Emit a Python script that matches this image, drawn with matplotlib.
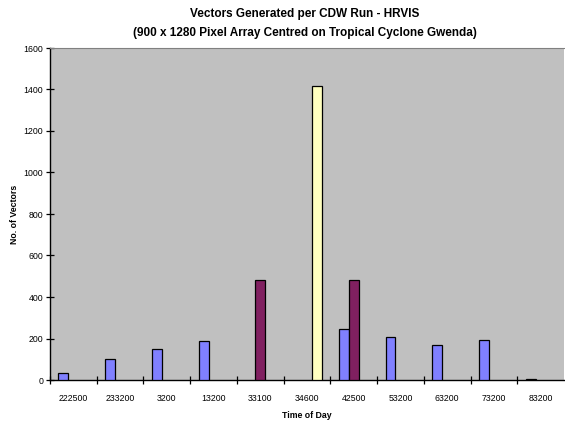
import matplotlib
matplotlib.use("Agg")
import matplotlib.pyplot as plt
import numpy as np

plt.rcParams['font.family'] = ['Liberation Sans', 'DejaVu Sans']

categories = ["222500", "233200", "3200", "13200", "33100", "34600",
              "42500", "53200", "63200", "73200", "83200"]
series_blue = [32, 100, 150, 187, 0, 0, 248, 206, 170, 192, 3]
series_maroon = [0, 0, 0, 0, 480, 0, 480, 0, 0, 0, 0]
series_yellow = [0, 0, 0, 0, 0, 1418, 0, 0, 0, 0, 0]
y_ticks = [0, 200, 400, 600, 800, 1000, 1200, 1400, 1600]

fig = plt.figure(figsize=(5.65, 4.23), dpi=100)
fig.patch.set_facecolor('white')
ax = fig.add_axes([50/565, 43/423, 514/565, 332/423])
ax.set_facecolor('#C0C0C0')

x = np.arange(len(categories))
w = 10/47
for vals, off, col in [(series_blue, -w, '#8080FF'),
                       (series_maroon, 0, '#802060'),
                       (series_yellow, w, '#FFFFC0')]:
    xs = [xi + off for xi, v in zip(x, vals) if v > 0]
    vs = [v for v in vals if v > 0]
    ax.bar(xs, vs, width=w, color=col, edgecolor='black', linewidth=0.9, zorder=3)

ax.set_xlim(-0.5, len(categories) - 0.5)
ax.set_ylim(0, 1600)
ax.set_yticks(y_ticks)
ax.set_yticklabels([str(t) for t in y_ticks], fontsize=6.3)
ax.set_xticks(x)
ax.set_xticklabels(categories, fontsize=6.3)
ax.set_xticks(np.arange(len(categories)) - 0.5, minor=True)
ax.tick_params(axis='x', which='major', length=0, pad=10)
ax.tick_params(axis='x', which='minor', direction='inout', length=6, width=0.9)
ax.tick_params(axis='y', direction='inout', length=6, width=0.9, pad=2)

ax.spines['top'].set_color('#808080')
ax.spines['top'].set_linewidth(0.8)
ax.spines['right'].set_visible(False)
for s in ['left', 'bottom']:
    ax.spines[s].set_color('black')
    ax.spines[s].set_linewidth(1.0)

ax.set_ylabel('No. of Vectors', fontsize=6.3, fontweight='bold', labelpad=3)
ax.set_xlabel('Time of Day', fontsize=6.3, fontweight='bold', labelpad=6)
fig.text(305/565, 1 - 14/423, 'Vectors Generated per CDW Run - HRVIS',
         ha='center', va='center', fontsize=8.5, fontweight='bold')
fig.text(305/565, 1 - 33/423, '(900 x 1280 Pixel Array Centred on Tropical Cyclone Gwenda)',
         ha='center', va='center', fontsize=8.5, fontweight='bold')

fig.savefig('out.png', dpi=100)
